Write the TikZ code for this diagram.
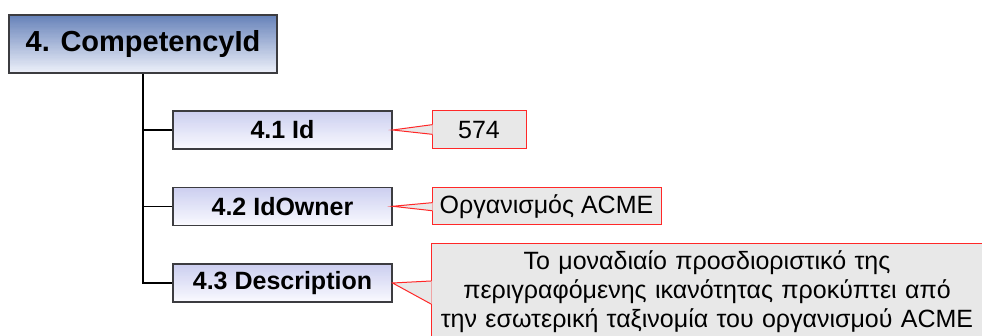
\documentclass[tikz,border=0pt]{standalone}
\usepackage{fontspec}
\setmainfont{Liberation Sans}
\usetikzlibrary{calc,backgrounds}
\definecolor{rootTop}{RGB}{100,128,184}
\definecolor{rootBot}{RGB}{238,241,250}
\definecolor{leafTop}{RGB}{202,205,239}
\definecolor{leafBot}{RGB}{250,250,255}
\definecolor{frame}{RGB}{60,60,64}
\definecolor{noteFill}{RGB}{232,232,232}
\definecolor{noteLine}{RGB}{255,40,40}
% vertical gradient behind a named node, built from thin horizontal bands
% #1 node name, #2 colour at the top, #3 colour at the bottom
\newcommand\bandfill[3]{%
  \begin{scope}[on background layer]
    \foreach \i in {0,...,47}{
      \pgfmathsetmacro\pct{100*(\i+0.5)/48}
      \pgfmathsetmacro\hi{min((\i+1.4)/48,1)}
      \colorlet{band}{#2!\pct!#3}
      \fill[band] ($(#1.south west)!{\i/48}!(#1.north west)$)
        rectangle ($(#1.south east)!{\hi}!(#1.north east)$);
    }
  \end{scope}}
\begin{document}
\begin{tikzpicture}[x=1pt,y=1pt,
  rootbox/.style={draw=frame, line width=1.3pt,
    minimum width=268pt, minimum height=58pt, inner sep=0pt,
    font=\fontsize{29}{34}\selectfont\bfseries},
  leafbox/.style={draw=frame, line width=1.1pt,
    minimum width=219pt, minimum height=38pt, inner sep=0pt,
    font=\fontsize{25}{29}\selectfont\bfseries},
  notebox/.style={draw=noteLine, line width=1pt, fill=noteFill, inner sep=0pt,
    font=\fontsize{25}{29}\selectfont, align=center},
  wire/.style={draw=black, line width=1.4pt},
  tail/.style={draw=noteLine, line width=1pt, line join=miter},
]
\useasboundingbox (0,0) rectangle (982,336);
\clip (0,0) rectangle (982,336);

% tree
\node[rootbox] (root) at (143,292) {4. CompetencyId};
\node[leafbox] (a1) at (282.5,206) {4.1 Id};
\node[leafbox] (a2) at (282.5,129.7) {4.2 IdOwner};
\node[leafbox] (a3) at (282.5,53) {4.3 Description};

\bandfill{root}{rootTop}{rootBot}
\bandfill{a1}{leafTop}{leafBot}
\bandfill{a2}{leafTop}{leafBot}
\bandfill{a3}{leafTop}{leafBot}

\coordinate (trunk) at (root.south |- a3.west);
\draw[wire] (root.south) -- (trunk) -- (a3.west);
\draw[wire] (root.south |- a1.west) -- (a1.west);
\draw[wire] (root.south |- a2.west) -- (a2.west);

% value notes
\node[notebox, minimum width=94pt, minimum height=38pt] (c1) at (479,206) {574};
\node[notebox, minimum width=229pt, minimum height=37pt] (c2) at (546.5,129.5) {Οργανισμός ACME};
\node[notebox, text width=552pt, minimum height=96pt] (c3) at (707,44)
  {Το μοναδιαίο προσδιοριστικό της\\περιγραφόμενης ικανότητας προκύπτει από\\την εσωτερική ταξινομία του οργανισμού ACME};

% note tails
\foreach \leaf/\note/\up/\dn in {a1/c1/5.3/-4.3, a2/c2/3.8/-4.2, a3/c3/11/-12}{
  \fill[noteFill] ($(\note.west)+(1,\up)$) -- (\leaf.east) -- ($(\note.west)+(1,\dn)$) -- cycle;
  \draw[tail] ($(\note.west)+(0.5,\up)$) -- (\leaf.east) -- ($(\note.west)+(0.5,\dn)$);
}
\end{tikzpicture}
\end{document}
